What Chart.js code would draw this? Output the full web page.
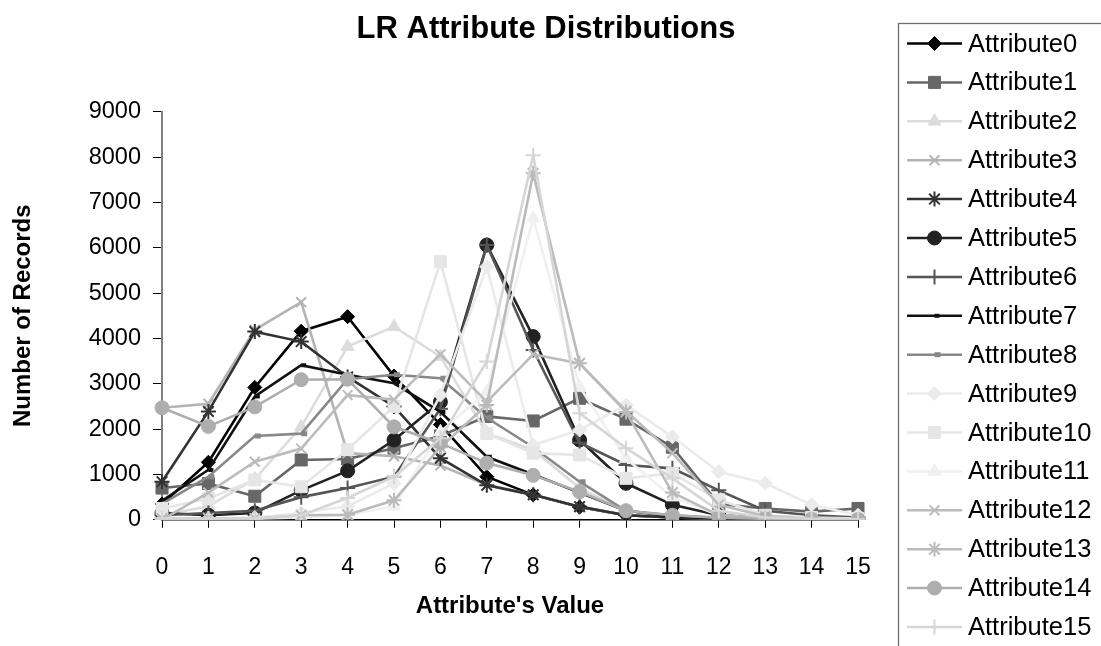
<!DOCTYPE html>
<html>
<head>
<meta charset="utf-8">
<script src="https://cdn.jsdelivr.net/npm/chart.js"></script>
<style>
  html, body { margin: 0; padding: 0; background: #fff; }
  #wrap { width: 1101px; height: 646px; }
</style>
</head>
<body>
<div id="wrap"><canvas id="c" width="1101" height="646"></canvas></div>
<script>
const chartTitle = 'LR Attribute Distributions';
const xTitle = "Attribute's Value";
const yTitle = 'Number of Records';
const categories = ['0','1','2','3','4','5','6','7','8','9','10','11','12','13','14','15'];
const seriesNames = ['Attribute0','Attribute1','Attribute2','Attribute3','Attribute4','Attribute5','Attribute6','Attribute7','Attribute8','Attribute9','Attribute10','Attribute11','Attribute12','Attribute13','Attribute14','Attribute15'];
const yTicks = [0,1000,2000,3000,4000,5000,6000,7000,8000,9000];

const attribute0  = [350, 1270, 2920, 4160, 4480, 3170, 2100, 950, 550, 280, 100, 50, 20, 10, 5, 0];
const attribute1  = [700, 800, 520, 1320, 1340, 1580, 1850, 2280, 2180, 2680, 2220, 1600, 350, 250, 180, 250];
const attribute2  = [100, 300, 900, 2050, 3820, 4260, 3600, 1910, 1540, 700, 200, 80, 30, 10, 5, 0];
const attribute3  = [2470, 2560, 4190, 4800, 1470, 1400, 1200, 770, 550, 290, 100, 50, 20, 10, 5, 0];
const attribute4  = [840, 2390, 4150, 3930, 3150, 2500, 1360, 760, 550, 290, 100, 50, 20, 10, 5, 0];
const attribute5  = [150, 100, 150, 650, 1080, 1760, 2600, 6060, 4040, 1760, 805, 330, 100, 50, 20, 10];
const attribute6  = [100, 150, 200, 500, 700, 950, 2450, 6060, 3745, 1700, 1210, 1135, 650, 200, 100, 50];
const attribute7  = [420, 1100, 2720, 3410, 3200, 3010, 2380, 1390, 1000, 600, 200, 80, 30, 10, 5, 0];
const attribute8  = [350, 950, 1850, 1900, 3100, 3200, 3120, 2250, 1600, 840, 200, 100, 40, 20, 10, 5];
const attribute9  = [0, 20, 50, 150, 300, 800, 2750, 5580, 1650, 1980, 2530, 1830, 1060, 805, 330, 100];
const attribute10 = [250, 470, 880, 730, 1550, 2500, 5690, 1900, 1470, 1430, 915, 1025, 440, 100, 50, 30];
const attribute11 = [0, 0, 20, 50, 100, 300, 1940, 2820, 6650, 2935, 1350, 500, 100, 30, 10, 0];
const attribute12 = [0, 600, 1280, 1570, 2750, 2650, 3650, 2600, 3650, 3450, 2400, 1470, 330, 80, 20, 10];
const attribute13 = [30, 30, 30, 100, 110, 430, 1600, 2530, 7640, 3450, 2380, 600, 100, 30, 10, 5];
const attribute14 = [2470, 2060, 2490, 3090, 3100, 2050, 1690, 1250, 980, 620, 200, 100, 50, 20, 10, 5];
const attribute15 = [30, 30, 30, 100, 480, 950, 1800, 3490, 8040, 2350, 1580, 915, 200, 50, 20, 10];

const seriesValues = [attribute0, attribute1, attribute2, attribute3, attribute4, attribute5, attribute6, attribute7,
  attribute8, attribute9, attribute10, attribute11, attribute12, attribute13, attribute14, attribute15];

// visual styles (not data)
const styles = [
  {color:'#000000', point:'rectRot', r:7,   bw:1},
  {color:'#676767', point:'rect',    r:8.5, bw:1},
  {color:'#dcdcdc', point:'triangle',r:7.5, bw:1},
  {color:'#b4b4b4', point:'crossRot',r:7,   bw:2},
  {color:'#333333', point:'star',    r:7.5, bw:2},
  {color:'#222222', point:'circle',  r:7,   bw:1},
  {color:'#555555', point:'cross',   r:7.5, bw:2},
  {color:'#111111', point:'dash',    r:5,   bw:4},
  {color:'#888888', point:'dash',    r:6,   bw:5},
  {color:'#ebebeb', point:'rectRot', r:7,   bw:1},
  {color:'#e6e6e6', point:'rect',    r:8.5, bw:1},
  {color:'#f0f0f0', point:'triangle',r:7.5, bw:1},
  {color:'#bcbcbc', point:'crossRot',r:7,   bw:2},
  {color:'#bbbbbb', point:'star',    r:7.5, bw:2},
  {color:'#aeaeae', point:'circle',  r:7,   bw:1},
  {color:'#d6d6d6', point:'cross',   r:7.5, bw:2}
];

const FONT = '"Liberation Sans", Arial, sans-serif';

const datasets = seriesValues.map((vals, i) => ({
  label: seriesNames[i],
  data: vals,
  borderColor: styles[i].color,
  backgroundColor: styles[i].color,
  borderWidth: 2.6,
  pointStyle: styles[i].point,
  pointRadius: styles[i].r,
  pointHoverRadius: styles[i].r,
  pointBorderWidth: styles[i].bw,
  pointBorderColor: styles[i].color,
  pointBackgroundColor: styles[i].color,
  tension: 0,
  fill: false,
  order: 15 - i
}));

const titleLegendPlugin = {
  id: 'titleAndLegend',
  afterDraw(chart) {
    const ctx = chart.ctx;
    ctx.save();
    // title
    ctx.fillStyle = '#000';
    ctx.font = 'bold 31px ' + FONT;
    ctx.textAlign = 'center';
    ctx.textBaseline = 'middle';
    ctx.fillText(chartTitle, 546, 29);
    // legend box
    ctx.strokeStyle = '#6e6e6e';
    ctx.lineWidth = 1.3;
    ctx.strokeRect(898.5, 23.5, 230, 660);
    const rowY0 = 43.5, rowH = 38.9;
    ctx.font = '25.5px ' + FONT;
    ctx.textBaseline = 'middle';
    ctx.textAlign = 'left';
    for (let i = 0; i < seriesNames.length; i++) {
      const y = rowY0 + i * rowH;
      const st = styles[i];
      ctx.strokeStyle = st.color;
      ctx.lineWidth = 2.5;
      ctx.beginPath();
      ctx.moveTo(907, y);
      ctx.lineTo(962, y);
      ctx.stroke();
      ctx.fillStyle = st.color;
      ctx.strokeStyle = st.color;
      ctx.lineWidth = st.bw;
      Chart.helpers.drawPoint(ctx, {pointStyle: st.point, radius: st.r, borderWidth: st.bw, rotation: 0}, 934.5, y);
      ctx.fillStyle = '#000';
      ctx.fillText(seriesNames[i], 968, y + 1);
    }
    ctx.restore();
  }
};

new Chart(document.getElementById('c'), {
  type: 'line',
  data: { labels: categories, datasets },
  plugins: [titleLegendPlugin],
  options: {
    responsive: false,
    animation: false,
    events: [],
    layout: { padding: { left: 0, right: 243, top: 111.7, bottom: 0 } },
    plugins: {
      legend: { display: false },
      tooltip: { enabled: false },
      title: { display: false }
    },
    scales: {
      x: {
        type: 'category',
        offset: false,
        grid: { display: true, drawOnChartArea: false, drawTicks: true, tickLength: 8, color: '#000', lineWidth: 1 },
        border: { display: true, color: '#000', width: 1.5 },
        ticks: { color: '#000', font: { family: FONT, size: 23 }, padding: 26, maxRotation: 0, autoSkip: false },
        title: { display: true, text: xTitle, color: '#000',
          font: { family: FONT, size: 24, weight: 'bold' }, padding: { top: 0, bottom: 25 } },
        afterFit(scale) { scale.height = 126.2; scale.paddingLeft = 0; scale.paddingRight = 0; }
      },
      y: {
        type: 'linear',
        min: 0, max: 9000,
        afterBuildTicks(scale) { scale.ticks = yTicks.map(v => ({ value: v })); },
        grid: { display: true, drawOnChartArea: false, drawTicks: true, tickLength: 9, color: '#000', lineWidth: 1 },
        border: { display: true, color: '#808080', width: 2 },
        ticks: { color: '#000', font: { family: FONT, size: 23.5 }, padding: 12, callback: (v) => String(v) },
        title: { display: true, text: yTitle, color: '#000',
          font: { family: FONT, size: 24, weight: 'bold' }, padding: { top: 9, bottom: 0 } },
        afterFit(scale) { scale.width = 162; scale.paddingTop = 0; scale.paddingBottom = 0; }
      }
    }
  }
});
</script>
</body>
</html>
